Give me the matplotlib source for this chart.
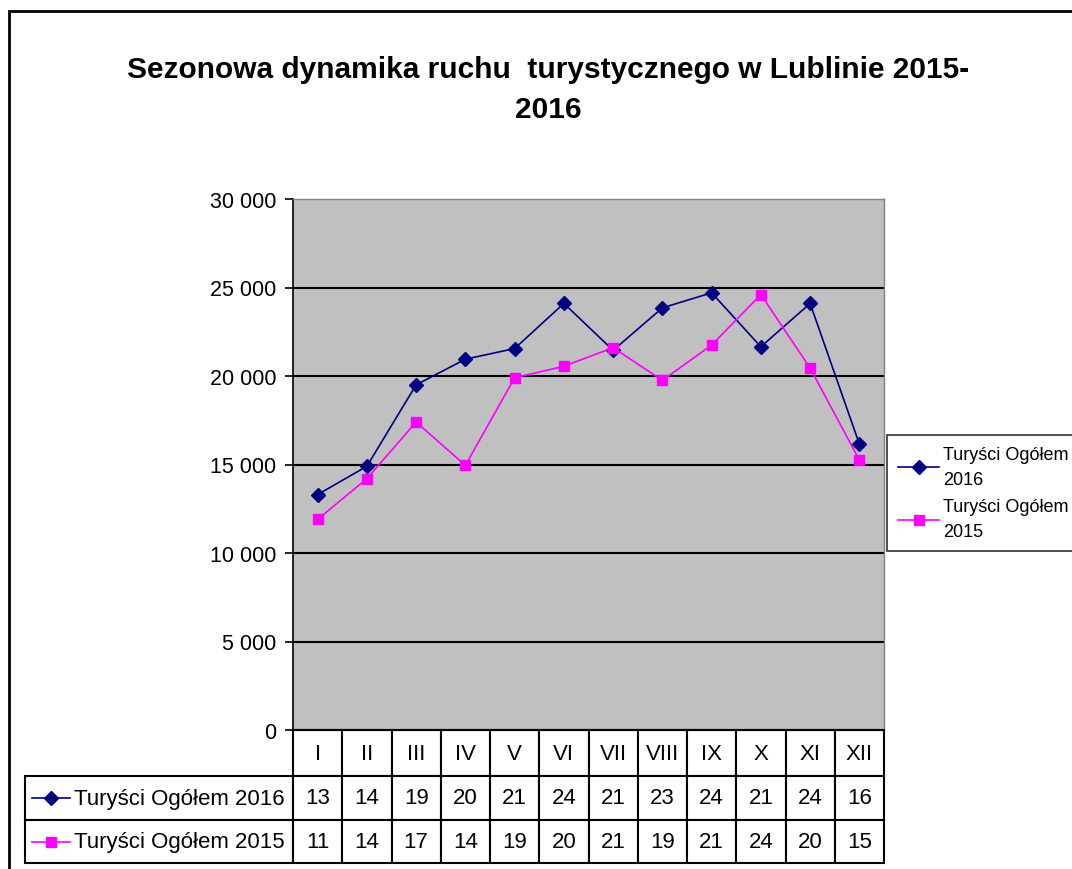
import matplotlib
matplotlib.use("Agg")
import matplotlib.pyplot as plt
from matplotlib.table import Table
from matplotlib.lines import Line2D
from matplotlib.patches import Rectangle

# data
months = ["I", "II", "III", "IV", "V", "VI", "VII", "VIII", "IX", "X", "XI", "XII"]
tourists_2016 = [13300, 14900, 19500, 20950, 21550, 24100, 21450, 23850, 24700, 21650, 24100, 16150]
tourists_2015 = [11900, 14200, 17400, 14950, 19900, 20550, 21600, 19750, 21750, 24600, 20450, 15250]
label_2016 = "Turyści Ogółem 2016"
label_2015 = "Turyści Ogółem 2015"
title = "Sezonowa dynamika ruchu  turystycznego w Lublinie 2015-\n2016"

FONT = ["Liberation Sans", "DejaVu Sans"]
plt.rcParams["font.family"] = FONT

W, H = 1072, 870
fig = plt.figure(figsize=(W / 100, H / 100), dpi=100)

# outer chart frame (clipped at right/bottom like the screenshot)
fig.patches.append(Rectangle((9 / W, -0.1), 1.2, 1 - 12 / H + 0.1, transform=fig.transFigure,
                             fill=False, edgecolor="black", linewidth=2))

fig.text(548 / W, 1 - 90 / H, title, ha="center", va="center", fontsize=21.5,
         fontweight="bold", linespacing=1.5)

# plot area in pixels
L, R, T, B = 293, 884, 200, 731
ax = fig.add_axes([L / W, 1 - B / H, (R - L) / W, (B - T) / H])
ax.set_facecolor("#c0c0c0")

x = list(range(len(months)))
ax.plot(x, tourists_2016, color="#000080", marker="D", markersize=7.5, linewidth=1.2, label=label_2016)
ax.plot(x, tourists_2015, color="#ff00ff", marker="s", markersize=7, linewidth=1.2, label=label_2015)

ax.set_xlim(-0.5, len(months) - 0.5)
ax.set_ylim(0, 30000)
ax.set_yticks(range(0, 30001, 5000))
ax.set_yticklabels([f"{v:,}".replace(",", " ") for v in range(0, 30001, 5000)], fontsize=15.5)
ax.set_xticks([])
ax.tick_params(axis="y", direction="out", length=6, width=1.2, pad=6)
ax.grid(axis="y", color="black", linewidth=1.5)
ax.set_axisbelow(True)
gl = ax.yaxis.get_gridlines()
gl[0].set_visible(False)
gl[-1].set_visible(False)
for s in ["top", "right"]:
    ax.spines[s].set_color("#808080")
    ax.spines[s].set_linewidth(1)
ax.spines["left"].set_linewidth(1.2)
ax.spines["bottom"].set_linewidth(1.5)

# data table below the plot (column 0 holds the row headers)
tbl_left = 25
row_h = [46, 44, 43]
tbl_w = R - tbl_left
tbl_h = sum(row_h)
aw, ah = R - L, B - T
tbl = Table(ax, bbox=[(tbl_left - L) / aw, -tbl_h / ah, tbl_w / aw, tbl_h / ah])
col_w = (R - L) / len(months)
rows = [("", months), (label_2016, [str(v // 1000) for v in tourists_2016]),
        (label_2015, [str(v // 1000) for v in tourists_2015])]
for r, (lab, vals) in enumerate(rows):
    c = tbl.add_cell(r, 0, width=L - tbl_left, height=row_h[r], text=lab, loc="right")
    c.PAD = 0.03
    c.get_text().set_fontsize(16)
    if r == 0:
        c.visible_edges = ""
    for j, v in enumerate(vals):
        d = tbl.add_cell(r, j + 1, width=col_w, height=row_h[r], text=v, loc="center")
        d.get_text().set_fontsize(16)
tbl.auto_set_font_size(False)
for cell in tbl.get_celld().values():
    cell.set_linewidth(1.5)
ax.add_table(tbl)

# legend keys inside row headers
for r, (color, mk, ms) in zip([1, 2], [("#000080", "D", 7), ("#ff00ff", "s", 6.5)]):
    yc = -(sum(row_h[:r]) + row_h[r] / 2) / ah
    ax.add_line(Line2D([(32 - L) / aw, (70 - L) / aw], [yc, yc], transform=ax.transAxes,
                       color=color, linewidth=1.2, clip_on=False))
    ax.add_line(Line2D([(51 - L) / aw], [yc], transform=ax.transAxes, color=color,
                       marker=mk, markersize=ms, clip_on=False))

handles, _ = ax.get_legend_handles_labels()
leg = fig.legend(handles, ["Turyści Ogółem\n2016", "Turyści Ogółem\n2015"],
                 loc="upper left", bbox_to_anchor=(887 / W, 1 - 436 / H), borderaxespad=0,
                 fontsize=13, frameon=True, fancybox=False, borderpad=0.6,
                 handlelength=2.3, handletextpad=0.2, labelspacing=0.6)
leg.get_frame().set_edgecolor("black")
leg.get_frame().set_linewidth(1.2)
for t in leg.get_texts():
    t.set_linespacing(1.6)

fig.savefig("out.png", dpi=100)
